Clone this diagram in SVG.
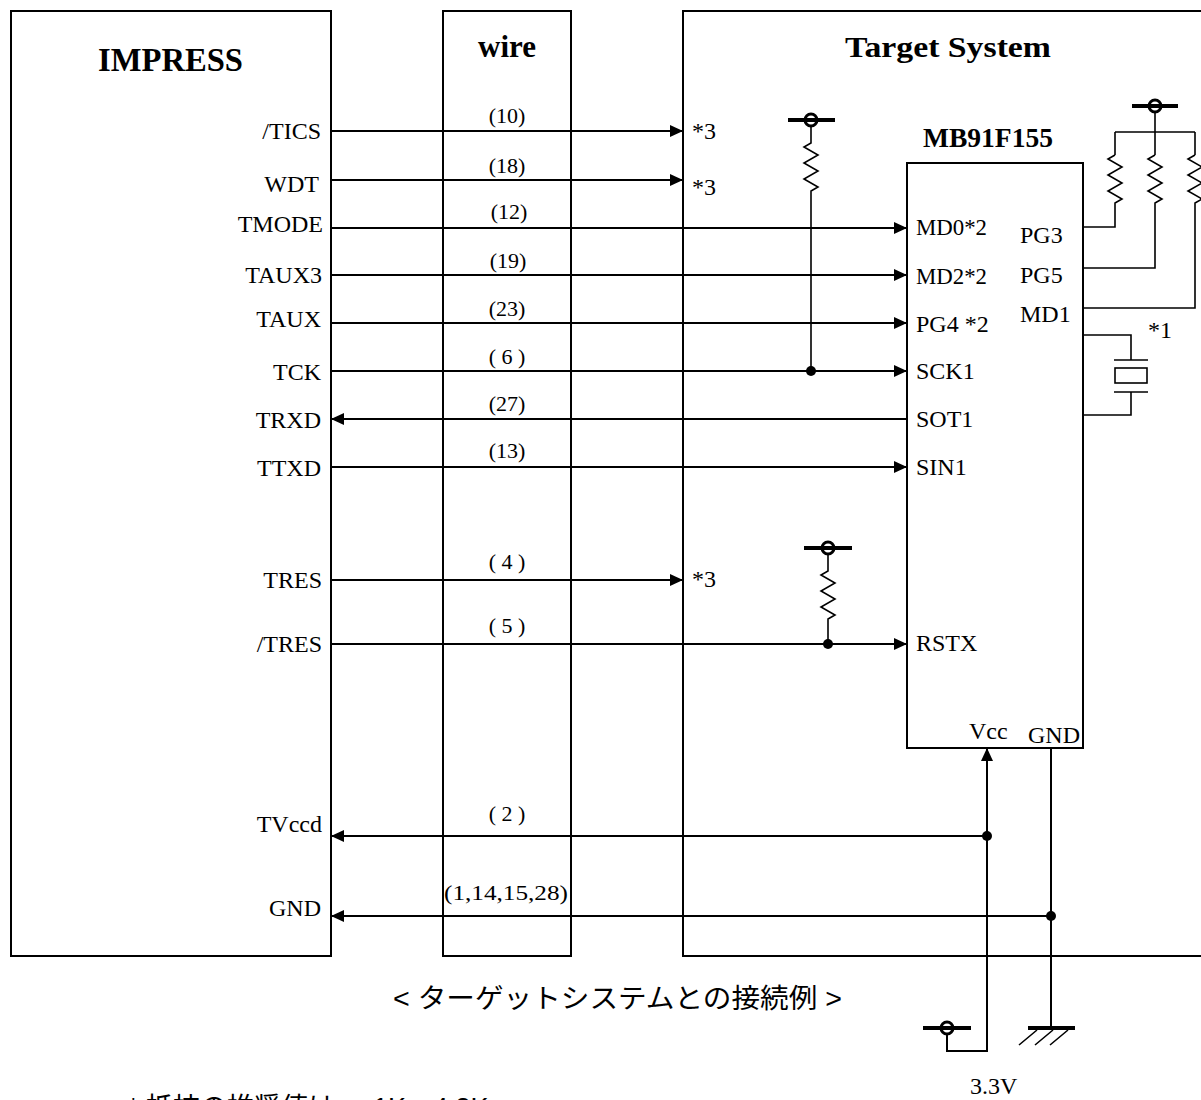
<svg xmlns="http://www.w3.org/2000/svg" width="1201" height="1100" viewBox="0 0 1201 1100">
<style>
.box{fill:none;stroke:#000;stroke-width:2}
.ln{fill:none;stroke:#000;stroke-width:2}
.thin{fill:none;stroke:#000;stroke-width:1.6}
.bar{fill:none;stroke:#000;stroke-width:4}
.ring{fill:none;stroke:#000;stroke-width:3}
.dot{fill:#000}
.t{font-family:"Liberation Serif",serif;font-size:24px;fill:#000}
.w{font-family:"Liberation Serif",serif;font-size:22px;fill:#000;text-anchor:middle}
.h{font-family:"Liberation Serif",serif;font-weight:bold;fill:#000}
.r{text-anchor:end}
.jp{font-family:"Liberation Sans","Noto Sans CJK JP",sans-serif;font-size:27px;fill:#000}
</style>
<defs>
<marker id="arr" markerUnits="userSpaceOnUse" markerWidth="14" markerHeight="12" refX="13" refY="6" orient="auto">
<path d="M0,0 L13,6 L0,12 z" fill="#000"/>
</marker>
</defs>

<g id="impress">
<rect class="box" x="11" y="11" width="320" height="945"/>
<text class="h" x="98" y="71" font-size="34" textLength="145" lengthAdjust="spacingAndGlyphs">IMPRESS</text>
<text class="t r" x="321" y="139">/TICS</text>
<text class="t r" x="319" y="192">WDT</text>
<text class="t r" x="323" y="232">TMODE</text>
<text class="t r" x="322" y="283">TAUX3</text>
<text class="t r" x="321" y="327">TAUX</text>
<text class="t r" x="321" y="380">TCK</text>
<text class="t r" x="321" y="428">TRXD</text>
<text class="t r" x="321" y="476">TTXD</text>
<text class="t r" x="322" y="588">TRES</text>
<text class="t r" x="322" y="652">/TRES</text>
<text class="t r" x="322" y="832">TVccd</text>
<text class="t r" x="321" y="916">GND</text>
</g>

<g id="wire">
<rect class="box" x="443" y="11" width="128" height="945"/>
<text class="h" x="507" y="57" font-size="31" text-anchor="middle">wire</text>
<text class="w" x="507" y="123">(10)</text>
<text class="w" x="507" y="173">(18)</text>
<text class="w" x="509" y="219">(12)</text>
<text class="w" x="508" y="268">(19)</text>
<text class="w" x="507" y="316">(23)</text>
<text class="w" x="507" y="364">( 6 )</text>
<text class="w" x="507" y="411">(27)</text>
<text class="w" x="507" y="458">(13)</text>
<text class="w" x="507" y="569">( 4 )</text>
<text class="w" x="507" y="633">( 5 )</text>
<text class="w" x="507" y="821">( 2 )</text>
<text class="w" x="506" y="900" textLength="124" lengthAdjust="spacingAndGlyphs">(1,14,15,28)</text>
</g>

<g id="target">
<rect class="box" x="683" y="11" width="530" height="945"/>
<text class="h" x="845" y="57" font-size="30" textLength="206" lengthAdjust="spacingAndGlyphs">Target System</text>
<text class="t" x="692" y="139">*3</text>
<text class="t" x="692" y="195">*3</text>
<text class="t" x="692" y="587">*3</text>
</g>

<g id="mcu">
<rect class="box" x="907" y="163" width="176" height="585"/>
<text class="h" x="923" y="147" font-size="27" textLength="130" lengthAdjust="spacingAndGlyphs">MB91F155</text>
<text class="t" x="916" y="235" textLength="71" lengthAdjust="spacingAndGlyphs">MD0*2</text>
<text class="t" x="916" y="284" textLength="71" lengthAdjust="spacingAndGlyphs">MD2*2</text>
<text class="t" x="916" y="332">PG4 *2</text>
<text class="t" x="916" y="379">SCK1</text>
<text class="t" x="916" y="427">SOT1</text>
<text class="t" x="916" y="475">SIN1</text>
<text class="t" x="916" y="651">RSTX</text>
<text class="t" x="1020" y="243">PG3</text>
<text class="t" x="1020" y="283">PG5</text>
<text class="t" x="1020" y="322">MD1</text>
<text class="t" x="969" y="739" font-size="22">Vcc</text>
<text class="t" x="1028" y="743">GND</text>
<text class="t" x="1148" y="338">*1</text>
</g>

<g id="power">
<line class="bar" x1="788" y1="120" x2="835" y2="120"/>
<circle class="ring" cx="811" cy="120" r="6"/>
<line class="bar" x1="1132" y1="106" x2="1178" y2="106"/>
<circle class="ring" cx="1155" cy="106" r="6"/>
<line class="bar" x1="804" y1="548" x2="852" y2="548"/>
<circle class="ring" cx="828" cy="548" r="6"/>
<line class="bar" x1="923" y1="1028" x2="971" y2="1028"/>
<circle class="ring" cx="947" cy="1028" r="6"/>
<text class="t" x="970" y="1094">3.3V</text>
</g>

<g id="ground">
<line class="bar" x1="1028" y1="1028" x2="1075" y2="1028"/>
<path class="thin" d="M1037,1030 L1019,1045 M1053,1030 L1035,1045 M1068,1030 L1050,1045"/>
</g>

<g id="connectors">
<path class="ln" d="M331,131 H683" marker-end="url(#arr)"/>
<path class="ln" d="M331,180 H683" marker-end="url(#arr)"/>
<path class="ln" d="M331,228 H907" marker-end="url(#arr)"/>
<path class="ln" d="M331,275 H907" marker-end="url(#arr)"/>
<path class="ln" d="M331,323 H907" marker-end="url(#arr)"/>
<path class="ln" d="M331,371 H907" marker-end="url(#arr)"/>
<path class="ln" d="M907,419 H331" marker-end="url(#arr)"/>
<path class="ln" d="M331,467 H907" marker-end="url(#arr)"/>
<path class="ln" d="M331,580 H683" marker-end="url(#arr)"/>
<path class="ln" d="M331,644 H907" marker-end="url(#arr)"/>
<path class="ln" d="M987,836 H331" marker-end="url(#arr)"/>
<path class="ln" d="M1051,916 H331" marker-end="url(#arr)"/>
<path class="ln" d="M947,1034 V1051 H987 V748" marker-end="url(#arr)"/>
<path class="ln" d="M1051,748 V1028"/>
<path class="thin" d="M811,126 V143 l-7,4 l14,8 l-14,8 l14,8 l-14,8 l14,8 l-7,4 V371"/>
<path class="thin" d="M828,554 V571 l-7,4 l14,8 l-14,8 l14,8 l-14,8 l14,8 l-7,4 V644"/>
<path class="thin" d="M1155,112 V155 M1115,132 H1195 M1115,132 V155 M1195,132 V155"/>
<path class="thin" d="M1115,155 l-7,4 l14,8 l-14,8 l14,8 l-14,8 l14,8 l-7,4 V227 H1083"/>
<path class="thin" d="M1155,155 l-7,4 l14,8 l-14,8 l14,8 l-14,8 l14,8 l-7,4 V268 H1083"/>
<path class="thin" d="M1195,155 l-7,4 l14,8 l-14,8 l14,8 l-14,8 l14,8 l-7,4 V308 H1083"/>
<path class="thin" d="M1083,335 H1131 V360 M1114,360 H1148 M1114,392 H1148 M1131,392 V415 H1083"/>
<rect class="thin" x="1115" y="368" width="32" height="15"/>
<circle class="dot" cx="811" cy="371" r="5"/>
<circle class="dot" cx="828" cy="644" r="5"/>
<circle class="dot" cx="987" cy="836" r="5"/>
<circle class="dot" cx="1051" cy="916" r="5"/>
</g>

<g id="captions">
<text class="jp" x="393" y="1008" textLength="449" lengthAdjust="spacingAndGlyphs">&lt;  ターゲットシステムとの接続例  &gt;</text>
<text class="jp" x="128" y="1117">* 抵抗の推奨値は<tspan x="373">1K～4.3K</tspan></text>
</g>
</svg>
